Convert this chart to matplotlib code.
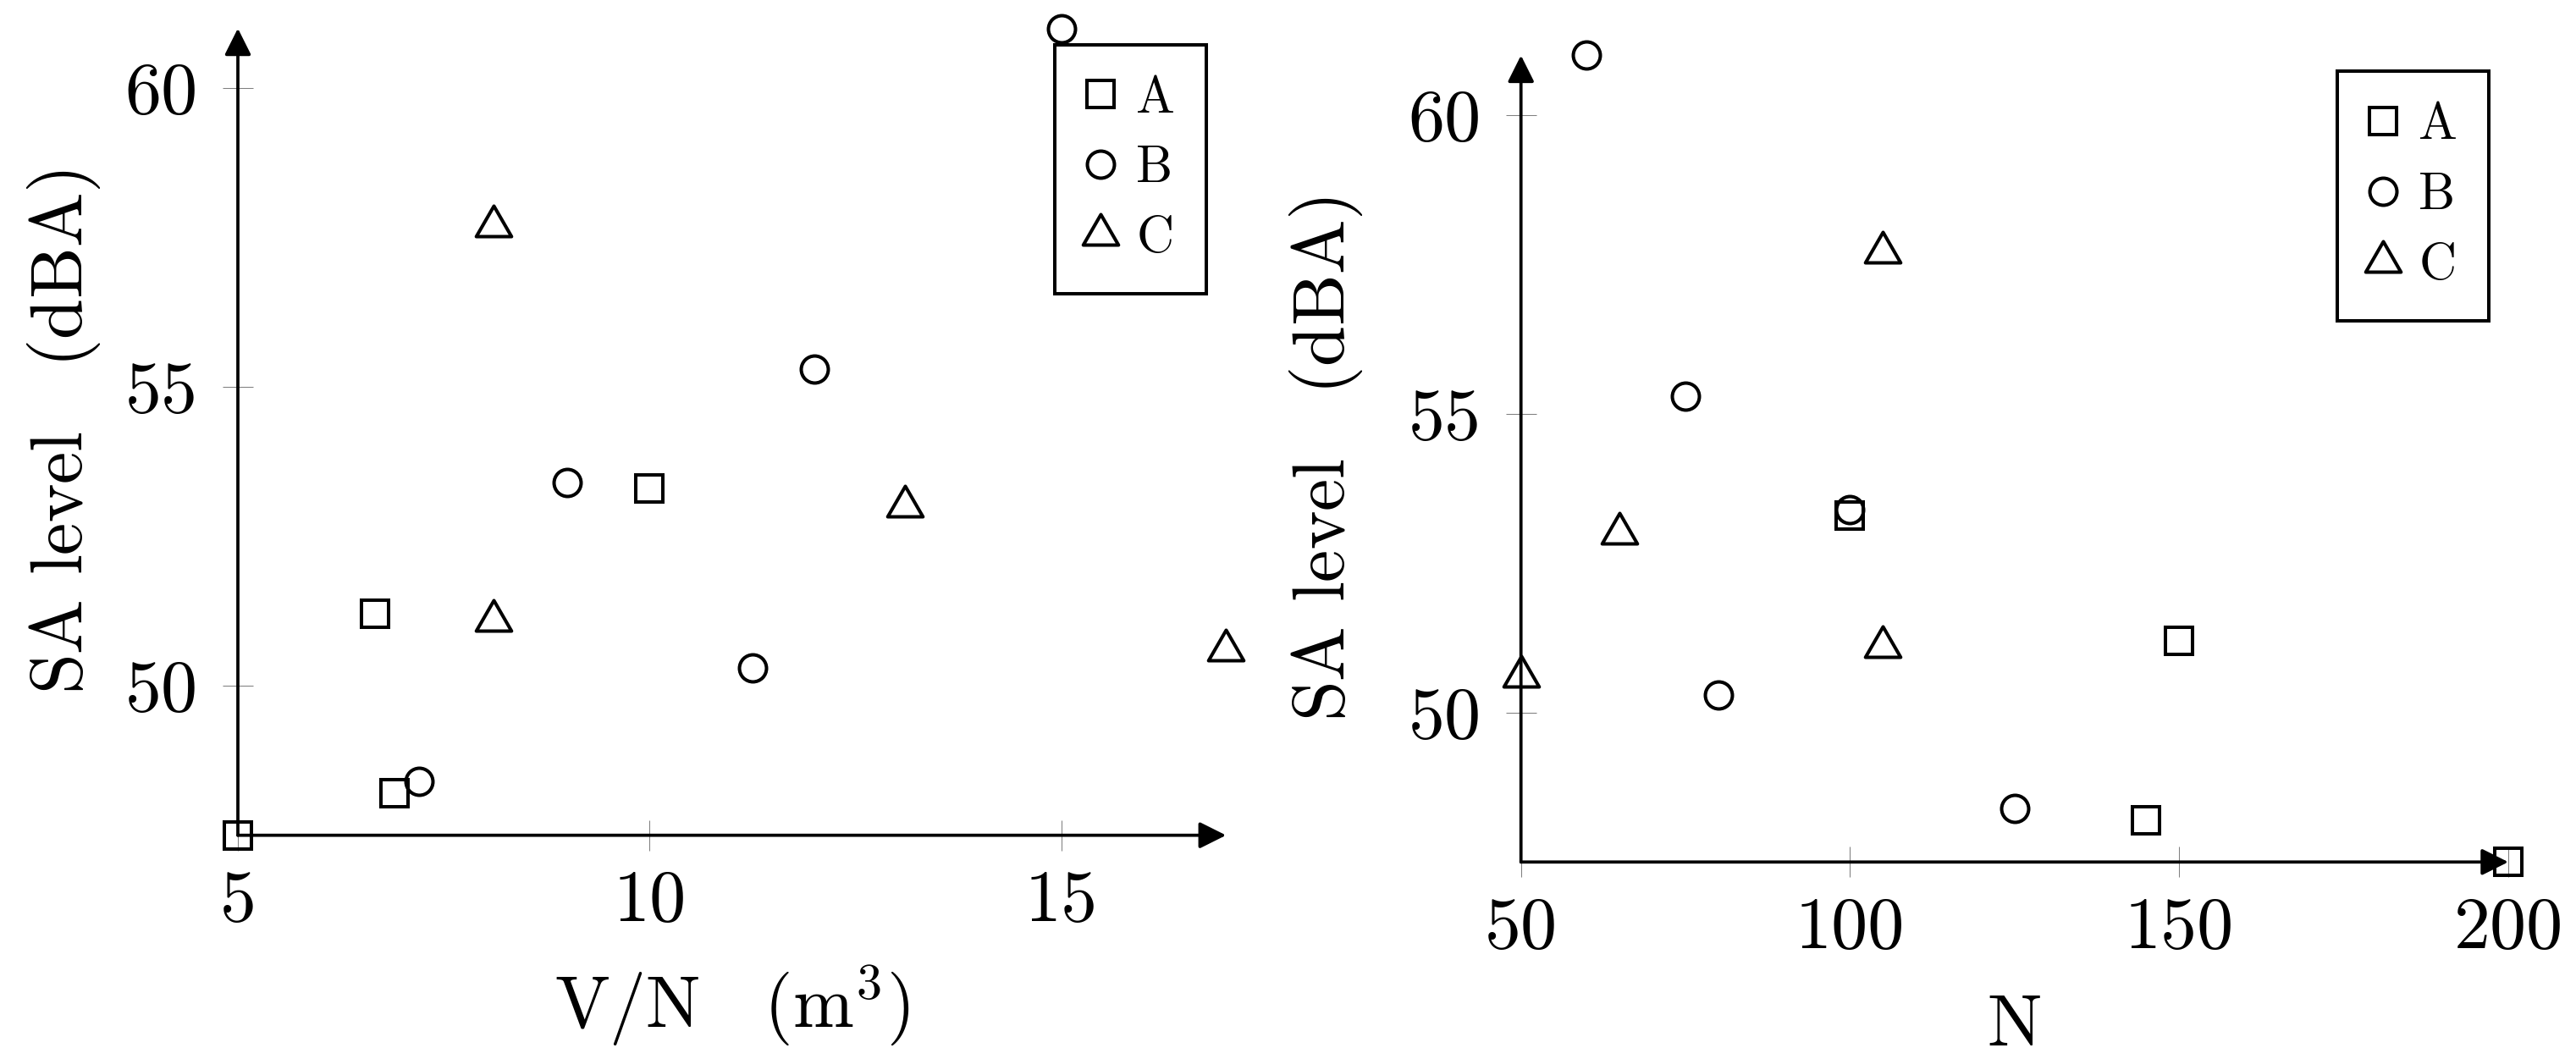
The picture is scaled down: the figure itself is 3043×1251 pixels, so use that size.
import matplotlib
matplotlib.use("Agg")
import matplotlib.pyplot as plt
from matplotlib.markers import MarkerStyle
from matplotlib.path import Path

plt.rcParams['font.family'] = 'serif'
plt.rcParams['font.serif'] = ['cmr10']
plt.rcParams['mathtext.fontset'] = 'cm'
plt.rcParams['axes.unicode_minus'] = False
plt.rcParams['axes.formatter.use_mathtext'] = True

# ---- data ----
series_names = ['A', 'B', 'C']
vn_A = [5, 6.67, 6.9, 10]
n_A = [200, 150, 145, 100]
level_A = [47.5, 51.2, 48.2, 53.3]

vn_B = [7.2, 9, 11.25, 12, 15]
n_B = [125, 100, 80, 75, 60]
level_B = [48.4, 53.4, 50.3, 55.3, 61.0]

vn_C = [8.1, 8.1, 13.1, 17]
n_C = [105, 105, 65, 50]
level_C = [57.7, 51.1, 53.0, 50.6]

xticks_left = [5, 10, 15]
xticks_right = [50, 100, 150, 200]
yticks = [50, 55, 60]
xlim_left = (5, 17)
xlim_right = (50, 200)
ylim = (47.5, 61)

xlabel_left = r'V/N$\quad$(m$^{3}$)'
xlabel_right = 'N'
ylabel = r'SA level$\quad$(dBA)'

# ---- style ----
W, H = 3043, 1251
fig = plt.figure(figsize=(W / 100, H / 100), dpi=100)
fig.patch.set_facecolor('white')

tri_path = Path([(0, 1), (-0.8660254, -0.5), (0.8660254, -0.5), (0, 1)], closed=True)
tri = MarkerStyle(tri_path, joinstyle='miter')
sq = MarkerStyle('s', joinstyle='miter')
styles = {
    'A': dict(marker=sq, ms=23),
    'B': dict(marker='o', ms=23),
    'C': dict(marker=tri, ms=34.6),
}
MEW = 2.9
AX_LW = 2.7
TICK_FS = 62
LABEL_FS = 62
LEG_FS = 44


def make_panel(rect, xs, xlim, xticks, xlabel, xlab_y, ylab_x):
    ax = fig.add_axes(rect)
    ax.set_xlim(*xlim)
    ax.set_ylim(*ylim)
    for sp in ax.spines.values():
        sp.set_visible(False)
    ax.set_xticks(xticks)
    ax.set_yticks(yticks)
    ax.set_xticklabels([str(t) for t in xticks])
    ax.set_yticklabels([str(t) for t in yticks])
    ax.tick_params(axis='both', direction='inout', length=25.9, width=0.75,
                   color='#808080', labelsize=TICK_FS, labelcolor='black')
    ax.tick_params(axis='x', pad=16.5)
    ax.tick_params(axis='y', pad=21)
    # axis arrows
    ap = dict(arrowstyle='-|>,head_length=0.8,head_width=0.4', lw=AX_LW,
              color='black', shrinkA=0, shrinkB=0, mutation_scale=24)
    ax.annotate('', xy=(1, 0), xytext=(0, 0), xycoords='axes fraction',
                textcoords='axes fraction', arrowprops=ap, zorder=2)
    ax.annotate('', xy=(0, 1), xytext=(0, 0), xycoords='axes fraction',
                textcoords='axes fraction', arrowprops=ap, zorder=2)
    ys = [level_A, level_B, level_C]
    for name, x, y in zip(series_names, xs, ys):
        st = styles[name]
        ax.plot(x, y, linestyle='none', marker=st['marker'], ms=st['ms'],
                mfc='none', mec='black', mew=MEW, clip_on=False, label=name,
                zorder=3)
    leg = ax.legend(loc='upper right', bbox_to_anchor=(0.98, 0.98),
                    borderaxespad=0, frameon=True, fancybox=False,
                    edgecolor='black', framealpha=1, fontsize=LEG_FS,
                    borderpad=0.6, labelspacing=0.45, handlelength=0.55,
                    handletextpad=0.42, numpoints=1)
    leg.get_frame().set_linewidth(2.9)
    ax.set_xlabel(xlabel, fontsize=LABEL_FS, va='baseline')
    ax.xaxis.set_label_coords(0.5, xlab_y)
    ax.set_ylabel(ylabel, fontsize=LABEL_FS, va='baseline')
    ax.yaxis.set_label_coords(ylab_x, 0.5)
    return ax


left_rect = [281 / W, 1 - 986.7 / H, (1448.3 - 281) / W, (986.7 - 33.5) / H]
right_rect = [1796.7 / W, 1 - 1018.3 / H, (2963 - 1796.7) / W, (1018.3 - 65.4) / H]

make_panel(left_rect, [vn_A, vn_B, vn_C], xlim_left, xticks_left, xlabel_left,
           -0.2377, -0.1576)
make_panel(right_rect, [n_A, n_B, n_C], xlim_right, xticks_right, xlabel_right,
           -0.2274, -0.1787)

fig.savefig('out.png', dpi=100, facecolor='white')
